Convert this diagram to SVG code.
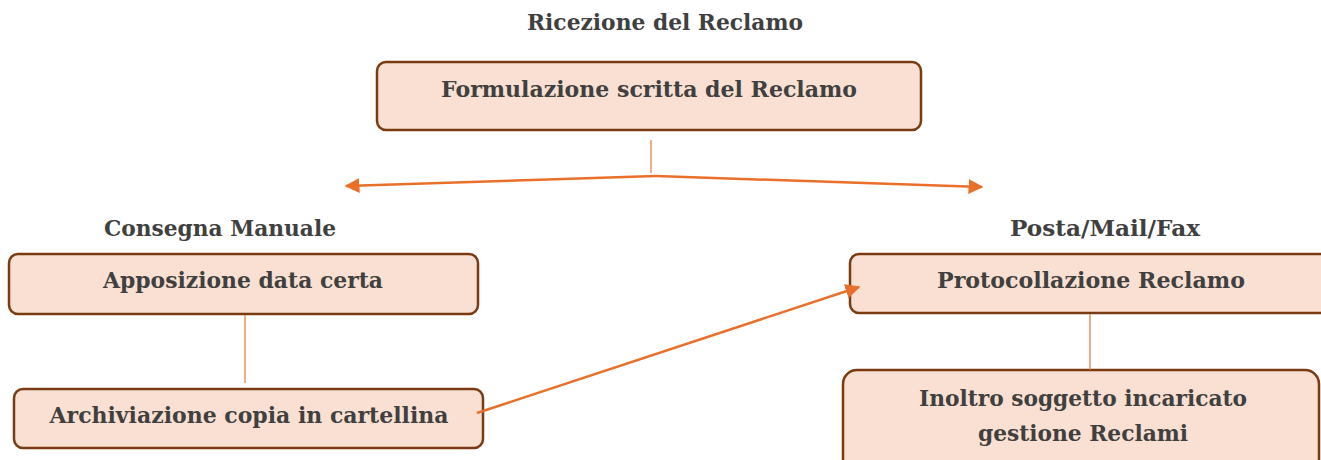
<svg xmlns="http://www.w3.org/2000/svg" width="1321" height="460" viewBox="0 0 1321 460">
<style>
.box{fill:#fae0d2;stroke:#7a3a12;stroke-width:2.5}
.t{font-family:"DejaVu Serif","Liberation Serif",serif;font-weight:bold;font-size:22px;fill:#404040;text-anchor:middle}
.thin{stroke:#e8763a;stroke-width:1.2;fill:none}
.arr{stroke:#e8702a;stroke-width:2.5;fill:none}
</style>
<defs>
<marker id="ah" viewBox="0 0 10 10" refX="9" refY="5" markerWidth="6" markerHeight="6" orient="auto" markerUnits="strokeWidth">
<path d="M0,0 L10,5 L0,10 z" fill="#e8702a"/>
</marker>
</defs>
<rect width="1321" height="460" fill="#fff"/>
<text class="t" x="665" y="30" textLength="276" lengthAdjust="spacingAndGlyphs">Ricezione del Reclamo</text>
<text class="t" x="220" y="236" textLength="232" lengthAdjust="spacingAndGlyphs">Consegna Manuale</text>
<text class="t" x="1105" y="236" textLength="190" lengthAdjust="spacingAndGlyphs">Posta/Mail/Fax</text>
<g id="n-formulazione">
<rect class="box" x="377" y="62" width="544" height="68" rx="9"/>
<text class="t" x="649" y="97" textLength="416" lengthAdjust="spacingAndGlyphs">Formulazione scritta del Reclamo</text>
</g>
<g id="n-apposizione">
<rect class="box" x="9" y="254" width="469" height="60" rx="9"/>
<text class="t" x="243" y="288" textLength="280" lengthAdjust="spacingAndGlyphs">Apposizione data certa</text>
</g>
<g id="n-archiviazione">
<rect class="box" x="14" y="389" width="469" height="59" rx="9"/>
<text class="t" x="249" y="423" textLength="399" lengthAdjust="spacingAndGlyphs">Archiviazione copia in cartellina</text>
</g>
<g id="n-protocollazione">
<rect class="box" x="850" y="254" width="490" height="59" rx="9"/>
<text class="t" x="1091" y="288" textLength="308" lengthAdjust="spacingAndGlyphs">Protocollazione Reclamo</text>
</g>
<g id="n-inoltro">
<rect class="box" x="843" y="370" width="476" height="110" rx="14"/>
<text class="t" x="1083" y="406" textLength="328" lengthAdjust="spacingAndGlyphs">Inoltro soggetto incaricato</text>
<text class="t" x="1083" y="441" textLength="210" lengthAdjust="spacingAndGlyphs">gestione Reclami</text>
</g>
<g id="connectors">
<line class="thin" x1="651" y1="140" x2="651" y2="173"/>
<polyline class="arr" points="656,176 346,186" marker-end="url(#ah)"/>
<polyline class="arr" points="656,176 982,187" marker-end="url(#ah)"/>
<line class="thin" x1="245" y1="315" x2="245" y2="383"/>
<line class="thin" x1="1090" y1="314" x2="1090" y2="370"/>
<line class="arr" x1="477" y1="413" x2="859" y2="287" marker-end="url(#ah)"/>
</g>
</svg>
